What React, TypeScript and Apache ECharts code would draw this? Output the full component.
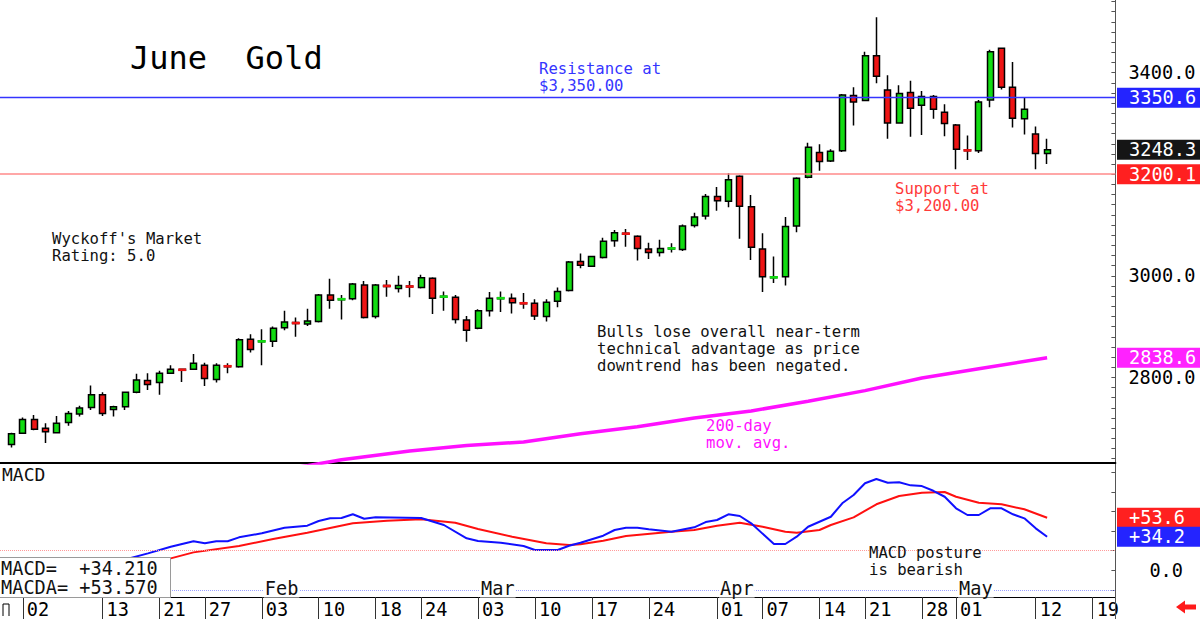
import React, { useEffect, useRef } from 'react';
import * as echarts from 'echarts';

const MONO = "'DejaVu Sans Mono', 'Liberation Mono', monospace";

// Trading days shown on the x axis (Dec 30, 2024 .. May 21, 2025)
const dates = ['12-30','12-31','01-02','01-03','01-06','01-07','01-08','01-09','01-10','01-13','01-14','01-15','01-16','01-17','01-21','01-22','01-23','01-24','01-27','01-28','01-29','01-30','01-31','02-03','02-04','02-05','02-06','02-07','02-10','02-11','02-12','02-13','02-14','02-18','02-19','02-20','02-21','02-24','02-25','02-26','02-27','02-28','03-03','03-04','03-05','03-06','03-07','03-10','03-11','03-12','03-13','03-14','03-17','03-18','03-19','03-20','03-21','03-24','03-25','03-26','03-27','03-28','03-31','04-01','04-02','04-03','04-04','04-07','04-08','04-09','04-10','04-11','04-14','04-15','04-16','04-17','04-21','04-22','04-23','04-24','04-25','04-28','04-29','04-30','05-01','05-02','05-05','05-06','05-07','05-08','05-09','05-12','05-13','05-14','05-15','05-16','05-19','05-20','05-21'];

// Labelled tick dates
const tickDates = ['01-02','01-13','01-21','01-27','02-03','02-10','02-18','02-24','03-03','03-10','03-17','03-24','04-01','04-07','04-14','04-21','04-28','05-01','05-12','05-19'];
const monthLabels = [['02-03','Feb'],['03-03','Mar'],['04-01','Apr'],['05-01','May']];

// Candles from Dec 31 to May 13: [open, close, low, high]
const candleFirst = 1;
const ohlc = [
  [2668,2689,2662,2691],[2690,2717,2689,2721],[2717,2698,2696,2726],[2700,2693,2671,2710],
  [2691,2710,2690,2724],[2711,2729,2705,2734],[2728,2740,2723,2744],[2741,2766,2736,2784],
  [2766,2729,2724,2771],[2737,2742,2723,2744],[2742,2771,2736,2772],[2771,2795,2769,2807],
  [2794,2786,2775,2808],[2790,2808,2766,2813],[2808,2816,2807,2824],[2816,2814,2791,2817],
  [2816,2828,2815,2846],[2824,2798,2783,2829],[2796,2824,2790,2828],[2823,2821,2808,2828],
  [2821,2874,2819,2877],[2875,2855,2849,2885],[2870,2872,2824,2895],[2871,2897,2860,2900],
  [2898,2909,2893,2931],[2908,2906,2880,2918],[2905,2911,2901,2935],[2910,2962,2908,2964],
  [2962,2952,2935,2994],[2953,2955,2914,2962],[2955,2984,2952,2986],[2982,2918,2916,2990],
  [2920,2982,2916,2984],[2981,2979,2959,2992],[2975,2981,2967,3000],[2980,2978,2958,2990],
  [2977,2996,2975,3002],[2995,2956,2925,2997],[2958,2960,2931,2969],[2958,2914,2906,2962],
  [2913,2893,2870,2921],[2897,2931,2895,2934],[2931,2956,2920,2968],[2955,2957,2929,2969],
  [2956,2947,2926,2965],[2947,2945,2935,2966],[2946,2921,2913,2954],[2920,2948,2910,2954],
  [2950,2969,2938,2977],[2971,3027,2969,3029],[3028,3021,3015,3044],[3019,3038,3018,3039],
  [3036,3068,3034,3075],[3069,3085,3057,3090],[3084,3082,3057,3092],[3078,3054,3030,3080],
  [3053,3046,3033,3065],[3046,3054,3038,3071],[3053,3055,3046,3064],[3052,3098,3049,3101],
  [3099,3116,3095,3124],[3118,3156,3111,3161],[3156,3148,3128,3175],[3147,3189,3135,3202],
  [3196,3137,3073,3198],[3136,3056,3031,3159],[3053,2998,2968,3084],[2996,2998,2986,3038],
  [2998,3097,2981,3116],[3098,3192,3086,3194],[3194,3253,3192,3262],[3243,3225,3207,3259],
  [3226,3245,3224,3249],[3246,3356,3244,3358],[3355,3342,3296,3371],[3345,3433,3344,3441],
  [3433,3393,3379,3509],[3366,3301,3270,3395],[3301,3359,3300,3375],[3361,3330,3274,3384],
  [3336,3353,3277,3364],[3353,3328,3309,3356],[3322,3300,3275,3338],[3297,3249,3210,3299],
  [3248,3246,3228,3276],[3246,3342,3242,3346],[3346,3441,3332,3445],[3448,3371,3367,3448],
  [3371,3310,3292,3421],[3309,3328,3278,3351],[3279,3241,3210,3294],[3241,3248.3,3220,3270]
];

// 200-day moving average readings
const maDates = ['02-03','02-07','02-12','02-21','02-28','03-07','03-14','03-21','03-28','04-04','04-11','04-21','04-28','05-05','05-13'];
const maValues = [2614,2626,2638,2655,2666,2673,2689,2703,2720,2734,2753,2774,2799,2817,2838.6];

// MACD line readings
const macdDates = ['01-15','01-17','01-22','01-24','01-27','01-28','01-29','01-30','02-03','02-05','02-07','02-10','02-11','02-12','02-13','02-14','02-18','02-24','02-26','02-28','03-03','03-05','03-07','03-10','03-12','03-13','03-14','03-18','03-19','03-20','03-21','03-24','03-26','03-28','03-31','04-01','04-02','04-03','04-04','04-08','04-09','04-10','04-11','04-15','04-16','04-17','04-21','04-22','04-23','04-24','04-25','04-28','04-29','04-30','05-01','05-02','05-05','05-06','05-07','05-08','05-09','05-12','05-13'];
const macdValues = [11,17.3,24.1,29.6,27.5,29.6,29.6,33.6,37.7,43.4,45.5,50.3,53,53.3,57.1,52.6,54,53.3,46.2,32.6,29.9,28.1,24.8,20.7,20.7,25.1,28.1,35.3,41.1,43.4,43.4,41.8,39.3,43.8,49.2,51.3,57.1,55.4,47.9,26.8,26.8,34.3,44.4,54.6,68.3,76.8,88.7,93.1,89.3,89.7,86.6,85.9,81.1,75,63.2,56.4,56.4,63.2,63.2,57.1,53,42.8,34.21];

// MACD signal (MACDA) readings
const signalDates = ['01-21','01-22','01-24','01-30','02-04','02-07','02-13','02-19','02-24','02-27','03-03','03-06','03-11','03-13','03-14','03-18','03-20','03-26','03-28','04-01','04-03','04-07','04-09','04-10','04-14','04-15','04-17','04-22','04-24','04-28','04-30','05-01','05-05','05-07','05-09','05-13'];
const signalValues = [9,12.2,18.3,24.8,31.9,38.3,47.9,50.6,52,48.5,42.1,34.3,27.5,25.8,26.5,30.2,35,39.3,41.1,45.5,48.5,44.4,39.3,38.3,41.1,46.2,54,67.3,75.7,79.1,79.8,75,68.9,67.3,62.2,53.57];

const resistance = 3350.6;
const support = 3200.1;
const lastPrice = 3248.3;
const lastMA = 2838.6;
const lastMacd = 34.21;
const lastSignal = 53.57;

const priceTicks = [2640,2660,2680,2700,2720,2740,2760,2780,2800,2820,2840,2860,2880,2900,2920,2940,2960,2980,3000,3020,3040,3060,3080,3100,3120,3140,3160,3180,3200,3220,3240,3260,3280,3300,3320,3340,3360,3380,3400,3420,3440,3460,3480,3500,3520,3540];
const priceLabels = [2800, 3000, 3400];
const macdTicks = [-20, 0, 20, 40, 60, 80, 100];
const macdLabels = [0];

const UP = '#12dc12';
const DOWN = '#ee1414';

export default function App() {
  const ref = useRef<HTMLDivElement>(null);
  useEffect(() => {
    const chart = echarts.init(ref.current as HTMLDivElement, null, { renderer: 'svg' });
    const tickSet = new Set(tickDates);
    const candleData = ohlc.map((c, i) => [dates[candleFirst + i], c[0], c[1], c[2], c[3]]);
    const dojiData = ohlc
      .map((c, i) => ({ c, d: dates[candleFirst + i] }))
      .filter((o) => Math.abs(o.c[1] - o.c[0]) <= 2.5)
      .map((o) => [o.d, (o.c[0] + o.c[1]) / 2, o.c[1] >= o.c[0] ? 1 : 0]);

    const option: any = {
      animation: false,
      textStyle: { fontFamily: MONO },
      grid: [
        { left: -2.8, top: 0, width: 1118.2, height: 463 },
        { left: -2.8, top: 463, width: 1118.2, height: 134 },
      ],
      xAxis: [
        {
          gridIndex: 0, type: 'category', data: dates, boundaryGap: false,
          axisLine: { show: true, onZero: false, lineStyle: { color: '#000', width: 2 } },
          axisTick: { show: false }, axisLabel: { show: false }, splitLine: { show: false },
        },
        {
          gridIndex: 1, type: 'category', data: dates, boundaryGap: false,
          axisLine: { show: true, onZero: false, lineStyle: { color: '#000', width: 1 } },
          axisTick: { show: true, interval: (i: number, v: string) => tickSet.has(v), length: 22, lineStyle: { color: '#333', width: 1 } },
          axisLabel: {
            interval: (i: number, v: string) => tickSet.has(v),
            formatter: (v: string) => v.slice(3),
            align: 'left', padding: [0, 0, 0, 4], margin: 3,
            fontFamily: MONO, fontSize: 18.6, color: '#000',
          },
          splitLine: { show: false },
        },
      ],
      yAxis: [
        {
          gridIndex: 0, type: 'value', position: 'right', min: 2631.5, max: 3543, scale: true,
          axisLine: { show: true, lineStyle: { color: '#555' } },
          axisTick: { show: true, inside: true, length: 4, customValues: priceTicks, lineStyle: { color: '#555' } },
          axisLabel: { customValues: priceLabels, formatter: (v: number) => v.toFixed(1), margin: 13, fontFamily: MONO, fontSize: 18.6, color: '#000' },
          splitLine: { show: false },
        },
        {
          gridIndex: 1, type: 'value', position: 'right', min: -27.2, max: 109.4,
          axisLine: { show: true, lineStyle: { color: '#555' } },
          axisTick: { show: true, inside: true, length: 4, customValues: macdTicks, lineStyle: { color: '#555' } },
          axisLabel: { customValues: macdLabels, formatter: (v: number) => v.toFixed(1), margin: 34, fontFamily: MONO, fontSize: 18.6, color: '#000' },
          splitLine: { show: false },
        },
      ],
      series: [
        {
          type: 'candlestick', xAxisIndex: 0, yAxisIndex: 0, barWidth: 6.5,
          encode: { x: 0, y: [1, 2, 3, 4] },
          data: candleData,
          itemStyle: { color: UP, color0: DOWN, borderColor: '#000', borderColor0: '#000', borderWidth: 1.5 },
          markLine: {
            silent: true, symbol: ['none', 'none'], label: { show: false },
            data: [
              { yAxis: resistance, lineStyle: { color: '#3434ff', width: 1.4, type: 'solid', opacity: 1 } },
              { yAxis: support, lineStyle: { color: '#ff8a8a', width: 1.5, type: 'solid', opacity: 1 } },
            ],
          },
          z: 3,
        },
        {
          type: 'custom', xAxisIndex: 0, yAxisIndex: 0, data: dojiData, z: 4,
          renderItem: (params: any, api: any) => {
            const p = api.coord([api.value(0), api.value(1)]);
            return { type: 'rect', shape: { x: p[0] - 4, y: p[1] - 1.3, width: 8, height: 2.6 }, style: { fill: api.value(2) ? UP : DOWN } };
          },
        },
        {
          type: 'line', xAxisIndex: 0, yAxisIndex: 0, symbol: 'none', z: 2,
          data: maDates.map((d, i) => [d, maValues[i]]),
          lineStyle: { color: '#ff10ff', width: 3.5 },
        },
        {
          type: 'line', xAxisIndex: 1, yAxisIndex: 1, symbol: 'none', z: 3,
          data: macdDates.map((d, i) => [d, macdValues[i]]),
          lineStyle: { color: '#1010ff', width: 2 },
          markLine: {
            silent: true, symbol: ['none', 'none'], label: { show: false },
            data: [
              { yAxis: 20, lineStyle: { color: '#ff9a9a', width: 1, type: 'dotted' } },
              { yAxis: -20, lineStyle: { color: '#9aa0ff', width: 1, type: 'dotted' } },
            ],
          },
        },
        {
          type: 'line', xAxisIndex: 1, yAxisIndex: 1, symbol: 'none', z: 2,
          data: signalDates.map((d, i) => [d, signalValues[i]]),
          lineStyle: { color: '#ff1010', width: 2 },
        },
      ],
    };
    chart.setOption(option);

    const py = (v: number) => chart.convertToPixel({ yAxisIndex: 0 }, v) as number;
    const my = (v: number) => chart.convertToPixel({ yAxisIndex: 1 }, v) as number;
    const px = (d: string) => chart.convertToPixel({ xAxisIndex: 1 }, d) as number;

    const txt = (text: string, x: number, y: number, color: string, size: number, z = 60, extra: any = {}) => ({
      type: 'text', x, y, z, silent: true,
      style: { text, fill: color, fontFamily: MONO, fontSize: size, lineHeight: Math.round(size), align: 'left', verticalAlign: 'middle', ...extra },
    });
    const tag = (y: number, text: string, bg: string) => ({
      type: 'group', children: [
        { type: 'rect', z: 70, shape: { x: 1117, y: y - 10, width: 83, height: 20 }, style: { fill: bg } },
        { type: 'text', z: 71, x: 1129, y, style: { text, fill: '#fff', fontFamily: MONO, fontSize: 18.6, lineHeight: 19, align: 'left', verticalAlign: 'middle' } },
      ],
    });

    const graphics: any[] = [
      txt('June  Gold', 130, 57.5, '#000', 32),
      txt('Resistance at', 539, 68.5, '#3535ff', 15.6),
      txt('$3,350.00', 539, 85.5, '#3535ff', 15.6),
      txt('Support at', 895, 188.5, '#ff3a3a', 15.6),
      txt('$3,200.00', 895, 205.5, '#ff3a3a', 15.6),
      txt("Wyckoff's Market", 52, 238.5, '#111', 15.6),
      txt('Rating: 5.0', 52, 255.5, '#111', 15.6),
      txt('Bulls lose overall near-term', 597, 332, '#111', 15.6),
      txt('technical advantage as price', 597, 349, '#111', 15.6),
      txt('downtrend has been negated.', 597, 366, '#111', 15.6),
      txt('200-day', 706, 425.5, '#ff10ff', 15.6),
      txt('mov. avg.', 706, 442.5, '#ff10ff', 15.6),
      txt('MACD', 2, 474, '#111', 18),
      txt('MACD posture', 869, 553, '#111', 15.6),
      txt('is bearish', 869, 570, '#111', 15.6),
      { type: 'rect', z: 80, shape: { x: -1, y: 557.5, width: 171.5, height: 40 }, style: { fill: '#fff', stroke: '#9a9a9a', lineWidth: 1 } },
      txt('MACD=  +34.210', 1, 568, '#111', 18.6, 81),
      txt('MACDA= +53.570', 1, 587, '#111', 18.6, 81),
      tag(py(resistance), '3350.6', '#2424ff'),
      tag(py(lastPrice), '3248.3', '#151515'),
      tag(py(support), '3200.1', '#ff2020'),
      tag(py(lastMA), '2838.6', '#ff22ff'),
      tag(my(lastSignal), '+53.6', '#ff2020'),
      tag(my(lastMacd), '+34.2', '#2424ff'),
      { type: 'line', z: 60, shape: { x1: 1115.5, y1: 597, x2: 1115.5, y2: 619 }, style: { stroke: '#555', lineWidth: 1 } },
      { type: 'polyline', z: 60, shape: { points: [[3, 616], [3, 604], [9, 604], [9, 616]] }, style: { stroke: '#000', fill: 'none', lineWidth: 1 } },
      { type: 'polygon', z: 60, shape: { points: [[1176, 607], [1185, 600.5], [1185, 604.5], [1196, 604.5], [1196, 609.5], [1185, 609.5], [1185, 613.5]] }, style: { fill: '#ff1a1a' } },
    ];
    monthLabels.forEach(([d, m]) => {
      graphics.push(txt(m, px(d) + 2, 588, '#111', 18.6, 60, { backgroundColor: '#fff', padding: [0, 1, 0, 1] }));
    });
    chart.setOption({ graphic: graphics });

    return () => chart.dispose();
  }, []);
  return <div ref={ref} style={{ position: 'fixed', left: 0, top: 0, width: 1200, height: 619, background: '#fff' }} />;
}
